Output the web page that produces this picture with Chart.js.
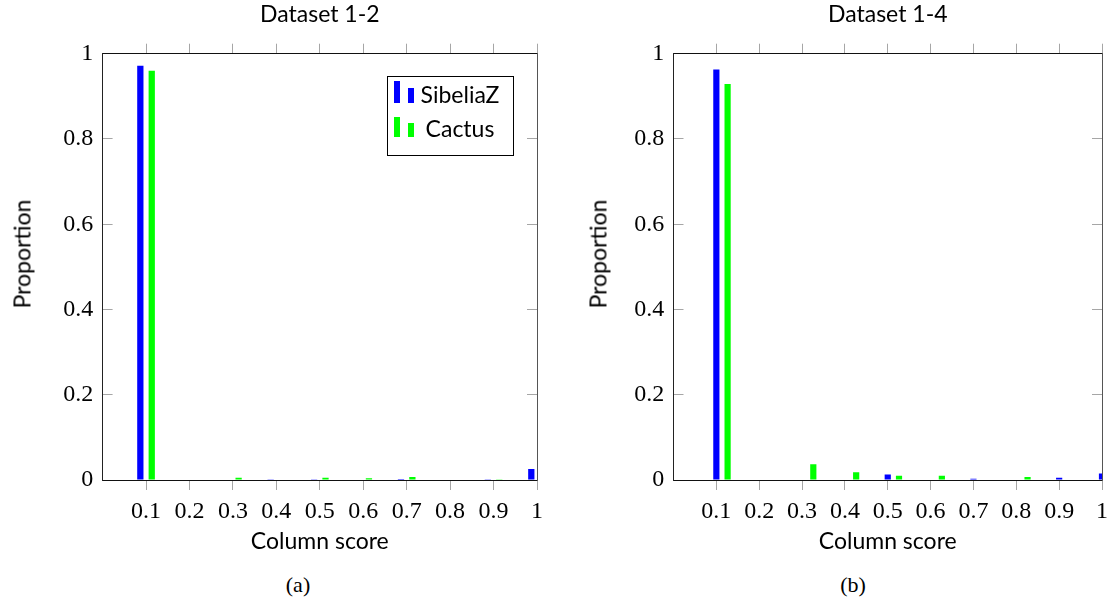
<!DOCTYPE html>
<html>
<head>
<meta charset="utf-8">
<script src="https://cdn.jsdelivr.net/npm/chart.js@4.4.1/dist/chart.umd.min.js"></script>
<style>
  html, body { margin: 0; padding: 0; background: #fff; }
  body { width: 1115px; height: 611px; position: relative; overflow: hidden; }
  canvas { position: absolute; top: 0; }
  #c1 { left: 0; }
  #c2 { left: 557px; }
  .cap { position: absolute; top: 574px; font-family: "Liberation Serif", serif; font-size: 22px; line-height: 1; transform: translateX(-50%); color: #000; }
  .legend { position: absolute; left: 387px; top: 76px; width: 127px; height: 80px; border: 1px solid #000; box-sizing: border-box; }
  .lbar { position: absolute; width: 6px; }
  .ltext { position: absolute; font-family: Lato, sans-serif; font-size: 23px; line-height: 1; transform: translateX(-50%); color: #000; white-space: nowrap; }
  .ytitle { position: absolute; font-family: Lato, sans-serif; font-size: 23px; line-height: 1; color: #000; white-space: nowrap; transform: translate(-50%, -50%) rotate(-90deg); }
</style>
</head>
<body>
<canvas id="c1" width="557" height="560"></canvas>
<canvas id="c2" width="558" height="560"></canvas>
<div class="cap" style="left:298px">(a)</div>
<div class="cap" style="left:853px">(b)</div>
<div id="legend"></div>
<script>
// ---- data ----
const scoreValues = [0.1, 0.2, 0.3, 0.4, 0.5, 0.6, 0.7, 0.8, 0.9, 1];
const xTickLabels = ['0.1', '0.2', '0.3', '0.4', '0.5', '0.6', '0.7', '0.8', '0.9', '1'];
const yTickValues = [0, 0.2, 0.4, 0.6, 0.8, 1];
const yTickLabels = ['0', '0.2', '0.4', '0.6', '0.8', '1'];
const seriesNames = ['SibeliaZ', 'Cactus'];
const seriesColors = ['#0000ff', '#00ff00'];
const titles = ['Dataset 1-2', 'Dataset 1-4'];
const xTitle = 'Column score';
const yTitle = 'Proportion';

const sibeliaz12 = [0.972, 0, 0, 0.0005, 0.0005, 0, 0.0025, 0, 0.0008, 0.026];
const cactus12   = [0.960, 0.001, 0.005, 0.001, 0.005, 0.004, 0.007, 0.001, 0.0015, 0];
const sibeliaz14 = [0.963, 0, 0, 0.001, 0.013, 0, 0.003, 0, 0.005, 0.015];
const cactus14   = [0.929, 0.001, 0.037, 0.018, 0.010, 0.010, 0.001, 0.007, 0.001, 0];

function pts(vals) { return scoreValues.map((x, i) => ({ x: x, y: vals[i] })); }

const TICK_FONT = { family: 'Liberation Serif', size: 24 };
const TITLE_FONT = { family: 'Lato', size: 23 };
const TICK_COLOR = 'rgba(0,0,0,0.35)';

function setTicks(values) {
  return function (scale) { scale.ticks = values.map(v => ({ value: v })); };
}

function makeChart(id, datasets, title, geo) {
  const ctx = document.getElementById(id);
  return new Chart(ctx, {
    type: 'bar',
    data: { datasets: datasets },
    options: {
      responsive: false,
      animation: false,
      devicePixelRatio: 1,
      categoryPercentage: geo.cat,
      barPercentage: geo.bar,
      layout: { padding: 0 },
      plugins: { legend: { display: false }, title: { display: false }, tooltip: { enabled: false } },
      scales: {
        x: {
          type: 'linear', position: 'bottom', min: 0, max: 1, offset: false,
          afterBuildTicks: setTicks(scoreValues),
          afterFit: s => { s.height = geo.h - 480; },
          ticks: { font: TICK_FONT, color: '#000', padding: 7, autoSkip: false, maxRotation: 0,
                   callback: (v, i) => xTickLabels[i] },
          grid: { display: true, drawOnChartArea: false, drawTicks: true, tickLength: 10, tickColor: TICK_COLOR, offset: false },
          border: { display: true, color: '#111', width: 1 },
          title: { display: true, text: xTitle, font: TITLE_FONT, color: '#000', padding: { top: 0, bottom: 5 } }
        },
        x2: {
          type: 'linear', position: 'top', min: 0, max: 1, offset: false,
          afterBuildTicks: setTicks(scoreValues),
          afterFit: s => { s.height = 53.7; },
          ticks: { display: false },
          grid: { display: true, drawOnChartArea: false, drawTicks: true, tickLength: 10, tickColor: TICK_COLOR, offset: false },
          border: { display: true, color: '#111', width: 1 },
          title: { display: true, text: title, font: TITLE_FONT, color: '#000', padding: { top: 1, bottom: 0 } }
        },
        y: {
          type: 'linear', position: 'left', min: 0, max: 1,
          afterBuildTicks: setTicks(yTickValues),
          afterFit: s => { s.width = geo.left; },
          ticks: { font: TICK_FONT, color: '#000', padding: 19.3, callback: (v, i) => yTickLabels[i] },
          grid: { display: true, drawOnChartArea: false, drawTicks: true, tickLength: -10, tickColor: TICK_COLOR },
          border: { display: true, color: '#222', width: 1 },
          title: { display: false }
        },
        y2: {
          type: 'linear', position: 'right', min: 0, max: 1,
          afterBuildTicks: setTicks(yTickValues),
          afterFit: s => { s.width = geo.right; },
          ticks: { display: false },
          grid: { display: true, drawOnChartArea: false, drawTicks: true, tickLength: -10, tickColor: TICK_COLOR },
          border: { display: true, color: '#555', width: 1 }
        }
      }
    }
  });
}

function addYTitle(x, y) {
  const d = document.createElement('div');
  d.className = 'ytitle';
  d.textContent = yTitle;
  d.style.left = x + 'px';
  d.style.top = y + 'px';
  document.body.appendChild(d);
}

function buildLegend() {
  const host = document.getElementById('legend');
  const box = document.createElement('div');
  box.className = 'legend';
  host.appendChild(box);
  const rows = [{ top: 81, base: 103 }, { top: 116.5, base: 137 }];
  seriesNames.forEach((name, i) => {
    const r = rows[i];
    const big = document.createElement('div');
    big.className = 'lbar';
    big.style.cssText = `left:394px;top:${r.top}px;height:${r.base - r.top}px;background:${seriesColors[i]};`;
    const small = document.createElement('div');
    small.className = 'lbar';
    small.style.cssText = `left:408px;top:${r.top + 6.5}px;height:${r.base - r.top - 6.5}px;background:${seriesColors[i]};`;
    const t = document.createElement('div');
    t.className = 'ltext';
    t.textContent = name;
    t.style.left = '460px';
    t.style.top = (r.base - 20.4) + 'px';
    [big, small, t].forEach(el => { el.style.position = 'absolute'; document.body.appendChild(el); });
  });
}

function build() {
  makeChart('c1', [
    { label: seriesNames[0], data: pts(sibeliaz12), backgroundColor: seriesColors[0], borderWidth: 0 },
    { label: seriesNames[1], data: pts(cactus12), backgroundColor: seriesColors[1], borderWidth: 0 }
  ], titles[0], { h: 560, left: 102.6, right: 20, cat: 0.525, bar: 0.55 });

  makeChart('c2', [
    { label: '', data: [], backgroundColor: 'rgba(0,0,0,0)', borderWidth: 0 },
    { label: seriesNames[0], data: pts(sibeliaz14), backgroundColor: seriesColors[0], borderWidth: 0 },
    { label: seriesNames[1], data: pts(cactus14), backgroundColor: seriesColors[1], borderWidth: 0 }
  ], titles[1], { h: 560, left: 116.5, right: 8, cat: 0.788, bar: 0.55 });

  addYTitle(22, 254);
  addYTitle(598, 254);
  buildLegend();
}

Promise.all([
  document.fonts.load('23px Lato'),
  document.fonts.load('24px "Liberation Serif"')
]).then(build, build);
</script>
</body>
</html>
